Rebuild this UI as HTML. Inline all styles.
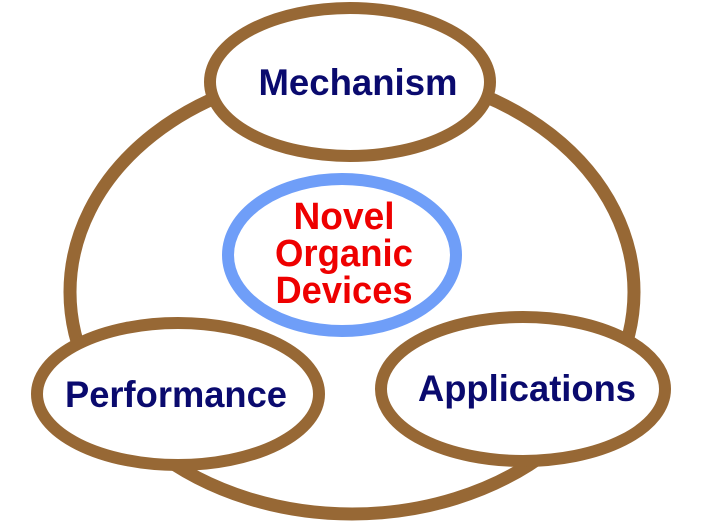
<!DOCTYPE html>
<html><head><style>
body{margin:0;background:#fff}
svg{display:block}
text{font-family:"Liberation Sans",sans-serif;font-weight:bold;text-anchor:middle}
</style></head><body>
<svg width="708" height="528" viewBox="0 0 708 528">
<ellipse cx="352" cy="292" rx="282" ry="222" fill="none" stroke="#976835" stroke-width="13"/>
<ellipse cx="350" cy="82" rx="140" ry="74" fill="#fff" stroke="#976835" stroke-width="12"/>
<ellipse cx="178" cy="394" rx="141" ry="71" fill="#fff" stroke="#976835" stroke-width="12"/>
<ellipse cx="523" cy="389" rx="142" ry="72" fill="#fff" stroke="#976835" stroke-width="12"/>
<ellipse cx="342" cy="255" rx="114" ry="76" fill="#fff" stroke="#6f9ef8" stroke-width="12"/>
<text x="358" y="95" font-size="37" fill="#0a0a6e" textLength="199" lengthAdjust="spacingAndGlyphs">Mechanism</text>
<text x="176" y="407" font-size="37" fill="#0a0a6e" textLength="222" lengthAdjust="spacingAndGlyphs">Performance</text>
<text x="527" y="401" font-size="37" fill="#0a0a6e" textLength="218" lengthAdjust="spacingAndGlyphs">Applications</text>
<text x="344" y="229" font-size="38" fill="#ee0000" textLength="101" lengthAdjust="spacingAndGlyphs">Novel</text>
<text x="344" y="266" font-size="38" fill="#ee0000" textLength="138" lengthAdjust="spacingAndGlyphs">Organic</text>
<text x="344" y="303" font-size="38" fill="#ee0000" textLength="137" lengthAdjust="spacingAndGlyphs">Devices</text>
</svg>
</body></html>
